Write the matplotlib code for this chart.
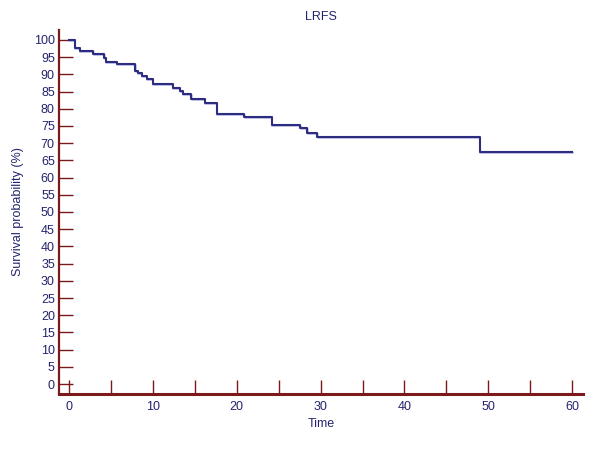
import matplotlib
matplotlib.use("Agg")
import matplotlib.pyplot as plt
import matplotlib.transforms as mtransforms

plt.rcParams['font.family'] = ['Liberation Sans', 'DejaVu Sans']

# Kaplan-Meier steps
times = [0, 0.7, 1.3, 2.9, 4.2, 4.4, 5.7, 7.9, 8.2, 8.7, 9.3, 10.0, 12.4, 13.2,
         13.6, 14.6, 16.2, 17.6, 20.9, 24.2, 27.6, 28.4, 29.6, 49.0, 60]
surv = [100, 97.7, 96.9, 96.0, 94.9, 93.7, 93.0, 91.0, 90.3, 89.5, 88.7, 87.1, 86.1,
        85.3, 84.3, 82.8, 81.8, 78.6, 77.6, 75.3, 74.3, 73.1, 71.9, 67.5, 67.5]

yticks = list(range(0, 101, 5))
xticks = list(range(0, 61, 10))

line_col = '#2d2d80'
shadow_col = '#b4b4ea'
axis_col = '#7a1a1a'
text_col = '#24246e'
fs = 9

fig = plt.figure(figsize=(6.0, 4.49), dpi=100)
ax = fig.add_axes([0.0983, 0.1225, 0.8734, 0.8107])

shadow = mtransforms.offset_copy(ax.transData, fig=fig, x=0.4, y=-1.0, units='dots')
ax.step(times, surv, where='post', color=shadow_col, lw=1.1, transform=shadow)
ax.step(times, surv, where='post', color=line_col, lw=1.5)

ax.set_xlim(-1.2, 61.3)
ax.set_ylim(-2.9, 102.9)

ax.set_yticks(yticks)
ax.set_xticks(xticks)
ax.set_xticks(range(0, 61, 5), minor=True)

for s in ['top', 'right']:
    ax.spines[s].set_visible(False)
ax.spines['left'].set_color(axis_col)
ax.spines['left'].set_linewidth(1.6)
ax.spines['bottom'].set_color(axis_col)
ax.spines['bottom'].set_linewidth(2.2)

ax.tick_params(axis='y', direction='in', length=10, width=1.0, color=axis_col,
               labelsize=fs, labelcolor=text_col, pad=3)
ax.tick_params(axis='x', which='both', direction='in', length=10, width=1.0,
               color=axis_col, labelsize=fs, labelcolor=text_col, pad=5)

ax.set_title('LRFS', fontsize=fs, color=text_col, pad=7)
ax.set_xlabel('Time', fontsize=fs, color=text_col, labelpad=4)
ax.set_ylabel('Survival probability (%)', fontsize=fs, color=text_col, labelpad=7)

fig.savefig('out.png', dpi=100)
